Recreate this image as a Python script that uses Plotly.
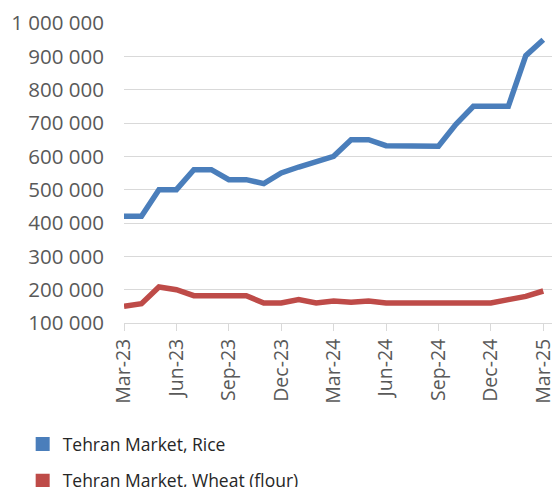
import plotly.graph_objects as go

months = [
    "Mar-23", "Apr-23", "May-23", "Jun-23", "Jul-23", "Aug-23", "Sep-23",
    "Oct-23", "Nov-23", "Dec-23", "Jan-24", "Feb-24", "Mar-24", "Apr-24",
    "May-24", "Jun-24", "Jul-24", "Aug-24", "Sep-24", "Oct-24", "Nov-24",
    "Dec-24", "Jan-25", "Feb-25", "Mar-25",
]
rice = [
    420000, 420000, 500000, 500000, 560000, 560000, 530000, 530000, 518000,
    550000, 568000, 584000, 600000, 650000, 650000, 632000, 630000, 630000,
    630000, 696000, 750000, 750000, 750000, 902000, 950000,
]
wheat = [
    150000, 158000, 208000, 200000, 182000, 182000, 182000, 182000, 160000,
    160000, 170000, 160000, 166000, 162000, 166000, 160000, 160000, 160000,
    160000, 160000, 160000, 160000, 170000, 180000, 196000,
]
tick_labels = months[::3]

BLUE = "#4A7EBB"
RED = "#BE4B48"
GREY = "#595959"

fig = go.Figure()
for name, vals, col in [("Tehran Market, Rice", rice, BLUE),
                        ("Tehran Market, Wheat (flour)", wheat, RED)]:
    fig.add_trace(go.Scatter(x=months, y=vals, mode="lines", name=name,
                             line=dict(color=col, width=5.5), showlegend=False))
    # square legend swatch
    fig.add_trace(go.Scatter(x=[None], y=[None], mode="markers", name=name,
                             legendgroup=name,
                             marker=dict(symbol="square", size=14, color=col)))

fig.update_layout(
    width=553, height=487,
    margin=dict(l=124, r=1, t=23, b=164, autoexpand=False),
    plot_bgcolor="white", paper_bgcolor="white",
    separators=". ",
    font=dict(family="Open Sans", color=GREY),
    legend=dict(
        xref="container", yref="container", x=0.041, y=1 - 426 / 487,
        xanchor="left", yanchor="top", tracegroupgap=11,
        font=dict(size=17.5, color="#262626"),
    ),
    xaxis=dict(
        type="category", range=[0, 24.5],
        tickvals=tick_labels, ticktext=tick_labels, tickangle=-90,
        showgrid=False, showline=True, linecolor="#D9D9D9", linewidth=1,
        ticks="outside", ticklen=7, tickcolor="#D9D9D9",
        tickfont=dict(size=19.5, color=GREY),
    ),
    yaxis=dict(
        range=[100000, 1000000], dtick=100000, tickformat=",d",
        showgrid=True, gridcolor="#D9D9D9", gridwidth=1, zeroline=False,
        ticklabelstandoff=19, tickfont=dict(size=20.5, color=GREY),
    ),
)

fig.write_html("out.html", config={"displayModeBar": False},
               post_script="document.body.style.margin='0';")
